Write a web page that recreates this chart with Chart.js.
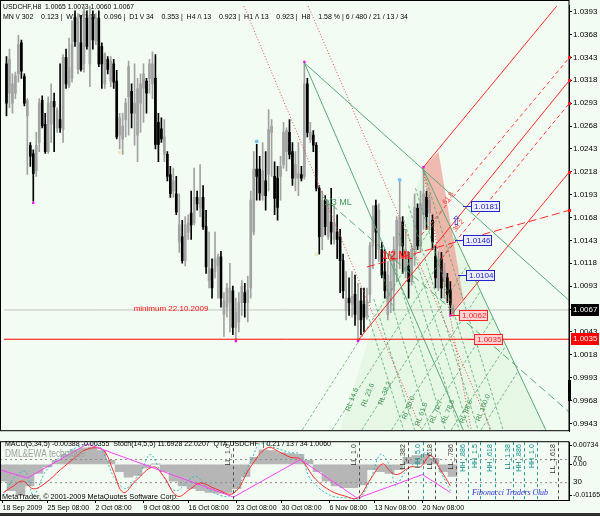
<!DOCTYPE html>
<html>
<head>
<meta charset="utf-8">
<title>USDCHF,H8</title>
<script src="https://cdn.jsdelivr.net/npm/chart.js@4.4.1/dist/chart.umd.min.js"></script>
<style>
  html, body { margin: 0; padding: 0; background: #f3fcf3; }
  #wrap { position: relative; width: 600px; height: 516px; overflow: hidden; background: #f3fcf3; }
  #main { position: absolute; left: 0; top: 0; }
  #sub { position: absolute; left: 0; top: 437px; }
  #tabs { position: absolute; left: 0; top: 513px; width: 600px; height: 3px; background: #303030; }
</style>
</head>
<body>
<div id="wrap">
  <canvas id="main" width="600" height="437"></canvas>
  <canvas id="sub" width="600" height="76"></canvas>
  <div id="tabs"></div>
</div>
<script>
'use strict';

var FONT = '"Liberation Sans", Arial, sans-serif';

// ---- USDCHF H8 candles, bar 0 = 18 Sep 2009 ----
var opens = [
  1.0336, 1.0304, 1.0293, 1.0304, 1.0325, 1.0359, 1.0322, 1.0279, 1.0247, 1.0238,
  1.0219, 1.0250, 1.0296, 1.0270, 1.0240, 1.0270, 1.0295, 1.0266, 1.0275, 1.0264,
  1.0343, 1.0312, 1.0320, 1.0387, 1.0330, 1.0359, 1.0336, 1.0386, 1.0336, 1.0387,
  1.0361, 1.0386, 1.0355, 1.0314, 1.0341, 1.0317, 1.0336, 1.0317, 1.0258, 1.0254,
  1.0275, 1.0300, 1.0306, 1.0282, 1.0258, 1.0293, 1.0309, 1.0317, 1.0320, 1.0314,
  1.0320, 1.0272, 1.0265, 1.0237, 1.0237, 1.0215, 1.0197, 1.0194, 1.0141, 1.0147,
  1.0121, 1.0152, 1.0173, 1.0162, 1.0190, 1.0179, 1.0190, 1.0158, 1.0099, 1.0112,
  1.0109, 1.0115, 1.0125, 1.0062, 1.0070, 1.0075, 1.0088, 1.0048, 1.0054, 1.0075,
  1.0086, 1.0075, 1.0091, 1.0152, 1.0221, 1.0221, 1.0192, 1.0208, 1.0215, 1.0261,
  1.0213, 1.0211, 1.0213, 1.0226, 1.0240, 1.0261, 1.0240, 1.0211, 1.0211, 1.0215,
  1.0213, 1.0314, 1.0253, 1.0258, 1.0247, 1.0200, 1.0147, 1.0187, 1.0147, 1.0163,
  1.0144, 1.0152, 1.0147, 1.0121, 1.0066, 1.0080, 1.0073, 1.0084, 1.0056, 1.0077,
  1.0073, 1.0062, 1.0084, 1.0137, 1.0181, 1.0133, 1.0133, 1.0109, 1.0062, 1.0077,
  1.0088, 1.0120, 1.0137, 1.0163, 1.0109, 1.0115, 1.0098, 1.0133, 1.0178, 1.0137,
  1.0171, 1.0190, 1.0173, 1.0165, 1.0126, 1.0091, 1.0123, 1.0098, 1.0102, 1.0089,
  1.0065
];
var highs = [
  1.0344, 1.0352, 1.0325, 1.0327, 1.0367, 1.0362, 1.0325, 1.0298, 1.0250, 1.0242,
  1.0261, 1.0298, 1.0301, 1.0282, 1.0300, 1.0314, 1.0304, 1.0288, 1.0336, 1.0346,
  1.0352, 1.0364, 1.0383, 1.0394, 1.0391, 1.0389, 1.0399, 1.0394, 1.0399, 1.0394,
  1.0391, 1.0394, 1.0359, 1.0348, 1.0344, 1.0344, 1.0341, 1.0329, 1.0282, 1.0282,
  1.0298, 1.0339, 1.0314, 1.0336, 1.0320, 1.0325, 1.0336, 1.0320, 1.0341, 1.0349,
  1.0346, 1.0282, 1.0277, 1.0275, 1.0240, 1.0224, 1.0222, 1.0213, 1.0194, 1.0165,
  1.0169, 1.0171, 1.0197, 1.0222, 1.0197, 1.0226, 1.0203, 1.0176, 1.0152, 1.0123,
  1.0152, 1.0128, 1.0131, 1.0086, 1.0096, 1.0118, 1.0093, 1.0080, 1.0086, 1.0099,
  1.0096, 1.0104, 1.0197, 1.0240, 1.0248, 1.0235, 1.0250, 1.0240, 1.0286, 1.0275,
  1.0229, 1.0224, 1.0235, 1.0272, 1.0266, 1.0275, 1.0250, 1.0240, 1.0250, 1.0224,
  1.0337, 1.0320, 1.0272, 1.0263, 1.0250, 1.0203, 1.0197, 1.0192, 1.0187, 1.0200,
  1.0181, 1.0171, 1.0155, 1.0128, 1.0109, 1.0102, 1.0109, 1.0105, 1.0096, 1.0091,
  1.0091, 1.0091, 1.0141, 1.0181, 1.0187, 1.0183, 1.0141, 1.0133, 1.0120, 1.0128,
  1.0147, 1.0169, 1.0207, 1.0169, 1.0155, 1.0130, 1.0137, 1.0194, 1.0183, 1.0197,
  1.0222, 1.0197, 1.0194, 1.0171, 1.0137, 1.0130, 1.0130, 1.0118, 1.0107, 1.0098,
  1.0073
];
var lows = [
  1.0279, 1.0288, 1.0282, 1.0298, 1.0316, 1.0320, 1.0290, 1.0215, 1.0224, 1.0186,
  1.0213, 1.0240, 1.0266, 1.0238, 1.0238, 1.0250, 1.0240, 1.0261, 1.0261, 1.0250,
  1.0309, 1.0310, 1.0316, 1.0355, 1.0325, 1.0328, 1.0327, 1.0352, 1.0311, 1.0352,
  1.0357, 1.0333, 1.0309, 1.0309, 1.0325, 1.0311, 1.0309, 1.0254, 1.0243, 1.0237,
  1.0256, 1.0258, 1.0266, 1.0247, 1.0229, 1.0261, 1.0272, 1.0282, 1.0304, 1.0298,
  1.0243, 1.0229, 1.0250, 1.0229, 1.0208, 1.0190, 1.0190, 1.0171, 1.0130, 1.0118,
  1.0115, 1.0144, 1.0144, 1.0160, 1.0176, 1.0169, 1.0155, 1.0107, 1.0091, 1.0080,
  1.0102, 1.0080, 1.0070, 1.0038, 1.0059, 1.0043, 1.0040, 1.0035, 1.0043, 1.0061,
  1.0059, 1.0054, 1.0080, 1.0149, 1.0187, 1.0187, 1.0187, 1.0176, 1.0197, 1.0213,
  1.0171, 1.0165, 1.0187, 1.0222, 1.0219, 1.0232, 1.0203, 1.0197, 1.0192, 1.0208,
  1.0210, 1.0256, 1.0250, 1.0240, 1.0197, 1.0128, 1.0133, 1.0149, 1.0144, 1.0139,
  1.0139, 1.0123, 1.0086, 1.0080, 1.0056, 1.0061, 1.0059, 1.0050, 1.0035, 1.0040,
  1.0043, 1.0057, 1.0075, 1.0112, 1.0123, 1.0120, 1.0102, 1.0080, 1.0056, 1.0064,
  1.0066, 1.0098, 1.0112, 1.0107, 1.0102, 1.0080, 1.0094, 1.0115, 1.0133, 1.0130,
  1.0155, 1.0155, 1.0155, 1.0133, 1.0091, 1.0088, 1.0080, 1.0080, 1.0075, 1.0062,
  1.0060
];
var closes = [
  1.0293, 1.0341, 1.0314, 1.0323, 1.0357, 1.0328, 1.0293, 1.0296, 1.0235, 1.0216,
  1.0247, 1.0293, 1.0268, 1.0240, 1.0293, 1.0295, 1.0289, 1.0285, 1.0266, 1.0343,
  1.0314, 1.0332, 1.0357, 1.0360, 1.0386, 1.0330, 1.0394, 1.0355, 1.0389, 1.0362,
  1.0386, 1.0336, 1.0336, 1.0346, 1.0330, 1.0339, 1.0316, 1.0256, 1.0277, 1.0268,
  1.0293, 1.0333, 1.0282, 1.0293, 1.0309, 1.0314, 1.0325, 1.0304, 1.0336, 1.0336,
  1.0248, 1.0248, 1.0254, 1.0256, 1.0213, 1.0194, 1.0208, 1.0174, 1.0160, 1.0121,
  1.0160, 1.0162, 1.0160, 1.0190, 1.0183, 1.0190, 1.0158, 1.0114, 1.0112, 1.0091,
  1.0123, 1.0125, 1.0080, 1.0077, 1.0091, 1.0091, 1.0048, 1.0064, 1.0075, 1.0093,
  1.0075, 1.0089, 1.0187, 1.0221, 1.0213, 1.0195, 1.0219, 1.0192, 1.0264, 1.0268,
  1.0189, 1.0179, 1.0224, 1.0261, 1.0263, 1.0237, 1.0211, 1.0226, 1.0216, 1.0211,
  1.0314, 1.0261, 1.0261, 1.0247, 1.0200, 1.0147, 1.0187, 1.0158, 1.0183, 1.0152,
  1.0162, 1.0144, 1.0121, 1.0088, 1.0080, 1.0075, 1.0082, 1.0062, 1.0077, 1.0056,
  1.0059, 1.0077, 1.0137, 1.0169, 1.0152, 1.0176, 1.0105, 1.0088, 1.0105, 1.0098,
  1.0133, 1.0165, 1.0168, 1.0137, 1.0133, 1.0098, 1.0133, 1.0179, 1.0137, 1.0183,
  1.0194, 1.0169, 1.0187, 1.0141, 1.0102, 1.0123, 1.0091, 1.0109, 1.0084, 1.0073,
  1.0067
];

var lastPrice = 1.0067;
var minimumPrice = 1.0035;

var priceTicks = [1.0393, 1.0368, 1.0343, 1.0318, 1.0293, 1.0268, 1.0243, 1.0218, 1.0193, 1.0168,
  1.0143, 1.0118, 1.0093, 1.0068, 1.0043, 1.0018, 0.9993, 0.9968, 0.9943];
var timeTicks = [0, 15, 31, 47, 62, 78, 93, 109, 124, 140];
var timeLabels = ['18 Sep 2009', '25 Sep 08:00', '2 Oct 08:00', '9 Oct 08:00', '16 Oct 08:00',
  '23 Oct 08:00', '30 Oct 08:00', '6 Nov 08:00', '13 Nov 08:00', '20 Nov 08:00'];

// pivot marks [bar, price]
var pivotDots = [[9, 1.0184], [77, 1.0033], [100, 1.0338], [118, 1.0033], [140, 1.0223], [149, 1.0061]];
var fractalDots = [[84, 1.0251], [132, 1.0209]];
var paleDots = [[38, 1.0239], [104, 1.0128]];

// drawn objects [bar1, price1, bar2, price2]
var greenLines = [[100, 1.0337, 189, 1.0077], [100, 1.0337, 153.3, 0.9936], [139.7, 1.0222, 181, 0.9936]];
var greenMedian = [[106, 1.0191, 189, 0.9955]];
var redLines = [[139.7, 1.0222, 184.7, 1.0399], [149.3, 1.0062, 189, 1.0218], [118.3, 1.0035, 189, 1.0318]];
var redDashed = [[139.3, 1.0149, 189, 1.0343], [146, 1.0123, 189, 1.0293]];
var redHalfML = [[121, 1.0114, 189, 1.0176]];
var redDotted = [[79.7, 1.0399, 139.3, 0.9936], [101.3, 1.0399, 162.7, 0.9936], [139.7, 1.0222, 156, 0.9936]];
var fanDown = [
  [121.3, 1.0062, 133.3, 0.9936], [123.3, 1.0079, 137, 0.9936], [126.3, 1.0106, 142.3, 0.9936],
  [129, 1.0128, 147.3, 0.9936], [131.7, 1.0151, 152, 0.9936], [133.3, 1.0166, 155.3, 0.9936],
  [135, 1.0181, 158.3, 0.9936], [137.3, 1.0200, 162.3, 0.9936], [139.7, 1.0222, 166.7, 0.9936]
];
var fanUp = [
  [99.3, 0.9936, 146.3, 1.0176], [109.3, 0.9936, 150.7, 1.0146], [119.3, 0.9936, 154.7, 1.0116],
  [129.3, 0.9936, 159, 1.0087], [139.3, 0.9936, 163.3, 1.0058], [149.3, 0.9936, 167.7, 1.0028],
  [159.3, 0.9936, 171.7, 1.0000]
];
var fanZone = [[139.7, 1.0222], [181, 0.9936], [112, 0.9936], [139.7, 1.0222]];
var pinkZone = [[139.7, 1.0222], [145, 1.0240], [153.3, 1.0080], [149.3, 1.0062], [139.7, 1.0222]];

var chartNotes = [
  [42.7, 1.0068, 'minimum 22.10.2009', '#ff1010', 8, ''],
  [106.7, 1.0184, '1/3 ML', '#3f9a5c', 9, ''],
  [126, 1.0126, '1/2 ML', '#ff1a1a', 10, 'bold ']
];
var levelBoxes = [
  [156, 1.0181, '1.0181', 'blue'],
  [153.3, 1.0144, '1.0146', 'blue'],
  [154.3, 1.0105, '1.0104', 'blue'],
  [152, 1.0062, '1.0062', 'red'],
  [157, 1.0035, '1.0035', 'red']
];
var rlLabels = [
  [116, 0.9969, 'RL 14.6'], [121.3, 0.9974, 'RL 23.6'], [127, 0.9976, 'RL 38.2'],
  [135, 0.9960, 'RL 50.0'], [139.3, 0.9953, 'RL 61.8'], [144.3, 0.9956, 'RL 70.7'],
  [148.3, 0.9956, 'RL 78.6'], [154.3, 0.9956, 'RL 88.6'], [160, 0.9960, 'RL 100.0']
];
var ratioLabels = [[148.3, 1.0189, '61.8'], [151.7, 1.0159, '38.2']];
var arrowMark = [151, 1.0163];
var axisMarks = [1.0343, 1.0318, 1.0293, 1.0218, 1.0176];

// ---- sub window: MACD(5,34,5), Stoch(14,5,5), QTA ----
var histBars = [0, 3, 6, 9, 12, 15, 18, 21, 24, 27, 30, 33, 36, 39, 42, 45, 48, 51, 54, 57,
  60, 63, 66, 69, 72, 75, 78, 81, 84, 87, 90, 93, 96, 99, 102, 105, 108, 111, 114, 117,
  120, 123, 126, 129, 132, 135, 138, 141, 144, 147, 150];
var histValues = [-0.0063, -0.0099, -0.0117, -0.0081, -0.0034, -0.0009, 0.0016, 0.0038, 0.0055, 0.0063,
  0.0066, 0.0052, 0.0016, -0.0027, -0.0048, -0.0041, -0.0013, 0.0001, -0.0027, -0.0063,
  -0.0081, -0.0092, -0.0099, -0.0106, -0.0109, -0.0106, -0.0092, -0.0045, 0.0027, 0.0055,
  0.0052, 0.0045, 0.0041, 0.0038, 0.0016, -0.0027, -0.0063, -0.0081, -0.0088, -0.0088,
  -0.0077, -0.0020, -0.0027, -0.0034, -0.0020, 0.0027, 0.0034, 0.0038, 0.0023, -0.0027, -0.0045];
var signalBars = [0.3, 3.3, 6.7, 10.3, 14.3, 19.3, 24.3, 27, 31.7, 34.3, 37, 40.3, 44.3, 50.3, 53.7,
  58.3, 62.7, 66, 71, 77, 82.7, 88.3, 92.7, 96, 99.3, 104.3, 109.3, 114.3, 118.3, 122.7,
  126.7, 129.3, 131.7, 136, 139.3, 142.7, 146, 149.3];
var signalValues = [-0.0106, -0.0084, -0.0063, -0.0092, -0.0070, -0.0020, 0.0027, 0.0052, 0.0063, 0.0045,
  -0.0027, -0.0106, -0.0063, -0.0009, -0.0045, -0.0120, -0.0092, -0.0070, -0.0092, -0.0109,
  -0.0009, 0.0063, 0.0045, 0.0027, 0.0020, -0.0055, -0.0099, -0.0120, -0.0127, -0.0055,
  0.0002, -0.0027, -0.0038, -0.0009, -0.0009, 0.0034, -0.0020, -0.0081];
var stochBars = [0.3, 4.3, 7.7, 10.3, 14.3, 19.3, 24.3, 31, 34.3, 37, 41, 46, 49.3, 52.7, 57.7,
  64.3, 69.3, 76, 82.7, 86, 91, 96, 99.3, 102.7, 109.3, 116, 118.7, 122.7, 126, 129.3,
  131, 134.3, 137.7, 141, 143.3, 146, 149.3];
var stochValues = [8, 41, 49, 8, 49, 74, 90, 98, 74, 41, 20, 49, 79, 49, 16,
  41, 16, 8, 66, 98, 90, 82, 79, 36, 8, 3, 0, 36, 79, 57,
  25, 49, 66, 82, 74, 49, 16];
var qtaBars = [-0.7, 8.3, 28.3, 77, 99.3, 118.3, 140, 149.3];
var qtaValues = [52, 38, 97, 5, 70, 3, 44, 13];
var stochLevels = [70, 30];
var macdTicks = [0.00734, 0, -0.01165];
var fiboTimes = [
  [77, 'LL_1.0', '#303030'], [118.7, 'LL_1.0', '#303030'], [135, 'LL_.382', '#303030'],
  [140, 'HH_5.0', '#008b8b'], [144.3, 'LL_.618', '#303030'], [151, 'LL_.786', '#303030'],
  [155, 'HH_.886', '#008b8b'], [159.3, 'HH_1.5', '#008b8b'], [164.3, 'HH_.618', '#008b8b'],
  [170.3, 'LL_1.38', '#008b8b'], [173.7, 'HH_.886', '#008b8b'], [178.3, 'HH_1.0', '#008b8b'],
  [185.3, 'LL_1.618', '#303030']
];

var X_MIN = -0.8333, X_MAX = 188.8333;

Chart.defaults.font.family = FONT;
Chart.defaults.font.size = 8;
Chart.defaults.color = '#000';

// ---- helpers ----
function pts(list) {
  return list.map(function(p) { return { x: p[0], y: p[1] }; });
}

function segSets(list, color, dash, width, order) {
  return list.map(function(s) {
    return {
      type: 'line',
      data: [{ x: s[0], y: s[1] }, { x: s[2], y: s[3] }],
      borderColor: color,
      borderDash: dash,
      borderWidth: width,
      pointRadius: 0,
      fill: false,
      order: order
    };
  });
}

function drawText(ctx, x, y, text, font, color, align, rot) {
  ctx.save();
  ctx.translate(x, y);
  if (rot) ctx.rotate(rot);
  ctx.font = font;
  ctx.fillStyle = color;
  ctx.textAlign = align || 'left';
  ctx.textBaseline = 'middle';
  ctx.fillText(text, 0, 0);
  ctx.restore();
}

// text squeezed to the width it takes in the terminal window
function drawFitted(ctx, x, y, text, font, color, width) {
  ctx.save();
  ctx.font = font;
  var k = Math.min(1, width / ctx.measureText(text).width);
  ctx.translate(x, y);
  ctx.scale(k, 1);
  ctx.fillStyle = color;
  ctx.textAlign = 'left';
  ctx.textBaseline = 'middle';
  ctx.fillText(text, 0, 0);
  ctx.restore();
}

function fixedWidth(scale) { scale.width = 31; }

// ---- main chart ----
var wicks = [], bodies = [], candleColors = [];
opens.forEach(function(o, i) {
  var bull = closes[i] >= o;
  wicks.push({ x: i, y: [lows[i], highs[i]] });
  bodies.push({ x: i, y: [o, closes[i]] });
  candleColors.push(bull ? '#a2a2a2' : '#000000');
});

var mainSets = [
  { type: 'line', data: pts(fanZone), borderWidth: 0, pointRadius: 0,
    backgroundColor: 'rgba(130,205,130,0.11)', fill: 'shape', order: 20 },
  { type: 'line', data: pts(pinkZone), borderWidth: 0, pointRadius: 0,
    backgroundColor: 'rgba(240,120,110,0.5)', fill: 'shape', order: 19 },
  { type: 'bar', data: wicks, backgroundColor: candleColors, barThickness: 1, grouped: false, order: 9 },
  { type: 'bar', data: bodies, backgroundColor: candleColors, barThickness: 2, minBarLength: 1, grouped: false, order: 8 },
  { type: 'line', data: [{ x: X_MIN, y: lastPrice }, { x: X_MAX, y: lastPrice }],
    borderColor: '#c4c4c4', borderWidth: 1, pointRadius: 0, order: 12 },
  { type: 'line', data: [{ x: X_MIN, y: minimumPrice }, { x: X_MAX, y: minimumPrice }],
    borderColor: '#ff0000', borderWidth: 1, pointRadius: 0, order: 3 },
  { type: 'line', data: pts(pivotDots), showLine: false, pointStyle: 'rect', pointRadius: 1.6,
    backgroundColor: '#ff00ff', borderWidth: 0, order: 1 },
  { type: 'line', data: pts(fractalDots), showLine: false, pointRadius: 2,
    backgroundColor: '#7ec4f0', borderWidth: 0, order: 1 },
  { type: 'line', data: pts(paleDots), showLine: false, pointRadius: 2,
    backgroundColor: '#ececc4', borderWidth: 0, order: 1 }
];
mainSets = mainSets
  .concat(segSets(fanDown, 'rgba(70,160,90,0.7)', [3, 2], 1, 6))
  .concat(segSets(fanUp, 'rgba(70,160,90,0.7)', [3, 2], 1, 6))
  .concat(segSets(redDotted, '#e04848', [1, 2], 1, 5))
  .concat(segSets(greenLines, '#5aa878', [], 1, 4))
  .concat(segSets(greenMedian, '#5aa878', [8, 4], 1, 4))
  .concat(segSets(redLines, '#ff2828', [], 1, 4))
  .concat(segSets(redDashed, '#ff3a3a', [4, 3], 1, 4))
  .concat(segSets(redHalfML, '#ff2828', [8, 4], 1, 4));

var mainDecor = {
  id: 'mainDecor',
  beforeDatasetsDraw: function(chart) {
    var ctx = chart.ctx;
    drawFitted(ctx, 3, 7, 'USDCHF,H8  1.0065 1.0073 1.0060 1.0067', '8px ' + FONT, '#000', 131);
    drawFitted(ctx, 3, 17, 'MN \\/ 302    0.123 |  W1 \\/ 121    0.096 |  D1 \\/ 34    0.353 |  H4 /\\ 13    0.923 |  H1 /\\ 13    0.923 |  H8    1.58 % | 6 / 480 / 21 / 13 / 34',
      '8px ' + FONT, '#000', 405);
  },
  afterDatasetsDraw: function(chart) {
    var ctx = chart.ctx, xs = chart.scales.x, ys = chart.scales.y;
    var area = chart.chartArea;
    ctx.save();
    ctx.beginPath();
    ctx.rect(area.left, area.top, area.right - area.left, area.bottom - area.top);
    ctx.clip();

    chartNotes.forEach(function(n) {
      drawText(ctx, xs.getPixelForValue(n[0]), ys.getPixelForValue(n[1]), n[2],
        n[5] + n[4] + 'px ' + FONT, n[3]);
    });
    rlLabels.forEach(function(n) {
      drawText(ctx, xs.getPixelForValue(n[0]), ys.getPixelForValue(n[1]), n[2],
        '7px ' + FONT, '#3c9050', 'center', -1.2);
    });
    ratioLabels.forEach(function(n) {
      drawText(ctx, xs.getPixelForValue(n[0]), ys.getPixelForValue(n[1]), n[2],
        '7px ' + FONT, '#ff3030', 'center', -0.9);
    });

    levelBoxes.forEach(function(b) {
      var x = Math.round(xs.getPixelForValue(b[0]));
      var y = Math.round(ys.getPixelForValue(b[1]));
      var red = b[3] === 'red';
      var line = red ? '#ff2020' : '#2424c8';
      ctx.font = '8px ' + FONT;
      var w = Math.round(ctx.measureText(b[2]).width) + 5;
      ctx.strokeStyle = line;
      ctx.lineWidth = 1;
      ctx.beginPath();
      ctx.moveTo(x - 8, y + 0.5);
      ctx.lineTo(x, y + 0.5);
      ctx.stroke();
      ctx.fillStyle = red ? '#ffd4d4' : '#eceeff';
      ctx.fillRect(x, y - 5, w, 11);
      ctx.strokeRect(x + 0.5, y - 4.5, w - 1, 10);
      drawText(ctx, x + 3, y + 1, b[2], '8px ' + FONT, line);
    });

    drawText(ctx, xs.getPixelForValue(arrowMark[0]), ys.getPixelForValue(arrowMark[1]), '\u21e7',
      '13px "DejaVu Sans", sans-serif', '#2a2ad0', 'center');
    ctx.restore();
  },
  afterDraw: function(chart) {
    var ctx = chart.ctx, ys = chart.scales.y, area = chart.chartArea;
    ctx.save();
    ctx.strokeStyle = '#000';
    ctx.lineWidth = 1;
    ctx.strokeRect(0.5, 0.5, area.right - 0.5, area.bottom - 1);

    axisMarks.forEach(function(p) {
      ctx.fillStyle = '#ff2020';
      ctx.fillRect(area.right - 1, Math.round(ys.getPixelForValue(p)) - 1, 3, 3);
    });
    ctx.fillStyle = '#000';
    ctx.fillRect(area.right - 1, 380, 3, 21);

    [[lastPrice, '#000000'], [minimumPrice, '#ff0000']].forEach(function(q) {
      var y = Math.round(ys.getPixelForValue(q[0]));
      ctx.fillStyle = q[1];
      ctx.fillRect(area.right + 2, y - 6, 28, 12);
      drawText(ctx, area.right + 4, y, q[0].toFixed(4), '8px ' + FONT, '#ffffff');
    });
    ctx.restore();
  }
};

new Chart(document.getElementById('main'), {
  type: 'bar',
  data: { datasets: mainSets },
  options: {
    responsive: false,
    animation: false,
    devicePixelRatio: 1,
    layout: { padding: 0 },
    plugins: { legend: { display: false }, tooltip: { enabled: false } },
    scales: {
      x: { type: 'linear', min: X_MIN, max: X_MAX, offset: false, display: false, grid: { offset: false } },
      y: {
        type: 'linear', position: 'right', min: 0.99345, max: 1.03994,
        afterFit: fixedWidth,
        afterBuildTicks: function(scale) {
          scale.ticks = priceTicks.map(function(v) { return { value: v }; });
        },
        ticks: {
          padding: 1,
          font: { size: 8 },
          callback: function(v) { return Number(v).toFixed(4); }
        },
        grid: { drawOnChartArea: false, tickLength: 3, color: '#000' },
        border: { display: true, color: '#000' }
      }
    }
  },
  plugins: [mainDecor]
});

// ---- sub window ----
var subSets = [
  { type: 'bar', data: histBars.map(function(b, i) { return { x: b, y: histValues[i] }; }),
    yAxisID: 'ym', backgroundColor: '#b6b6b6', barThickness: 9, grouped: false, order: 10 },
  { type: 'line', data: signalBars.map(function(b, i) { return { x: b, y: signalValues[i] }; }),
    yAxisID: 'ym', borderColor: '#ff2a2a', borderWidth: 1, tension: 0.4, pointRadius: 0, order: 2 },
  { type: 'line', data: stochBars.map(function(b, i) { return { x: b, y: stochValues[i] }; }),
    yAxisID: 'ys', borderColor: '#36b8b8', borderDash: [2, 2], borderWidth: 1, tension: 0.35, pointRadius: 0, order: 3 },
  { type: 'line', data: qtaBars.map(function(b, i) { return { x: b, y: qtaValues[i] }; }),
    yAxisID: 'ys', borderColor: '#ff40ff', borderWidth: 1, pointRadius: 0, order: 1 }
];
stochLevels.forEach(function(v) {
  subSets.push({ type: 'line', data: [{ x: X_MIN, y: v }, { x: X_MAX, y: v }], yAxisID: 'ys',
    borderColor: '#8c8c8c', borderDash: [2, 3], borderWidth: 1, pointRadius: 0, order: 5 });
});

var subDecor = {
  id: 'subDecor',
  afterDatasetsDraw: function(chart) {
    var ctx = chart.ctx, xs = chart.scales.x, area = chart.chartArea;
    ctx.save();
    fiboTimes.forEach(function(f) {
      var x = Math.round(xs.getPixelForValue(f[0])) + 0.5;
      ctx.strokeStyle = f[2] === '#008b8b' ? '#2a9898' : '#505050';
      ctx.setLineDash([3, 3]);
      ctx.lineWidth = 1;
      ctx.beginPath();
      ctx.moveTo(x, area.top);
      ctx.lineTo(x, area.bottom);
      ctx.stroke();
      drawText(ctx, x - 5, area.top + 2, f[1], '7px ' + FONT, f[2], 'right', -Math.PI / 2);
    });
    ctx.setLineDash([]);

    drawFitted(ctx, 5, 7, 'MACD(5,34,5) -0.00388 -0.00355  Stoch(14,5,5) 11.6928 22.0207  QTA USDCHF  | 0.21 / 13 / 34 1.0060',
      '8px ' + FONT, '#000', 326);
    drawFitted(ctx, 5, 17, 'DML&EWA technique', '10px ' + FONT, '#a0a0a0', 80);
    drawFitted(ctx, 2, 60, 'MetaTrader, \u00a9 2001-2009 MetaQuotes Software Corp.', '8px ' + FONT, '#000', 176);
    drawFitted(ctx, 472, 56, 'Fibonacci Traders Club', 'italic 9px "Liberation Serif", serif', '#2a2ad8', 76);
    ctx.restore();
  },
  afterDraw: function(chart) {
    var ctx = chart.ctx, area = chart.chartArea, ss = chart.scales.ys;
    ctx.save();
    ctx.strokeStyle = '#000';
    ctx.lineWidth = 1;
    ctx.strokeRect(0.5, area.top - 0.5, area.right - 0.5, area.bottom - area.top + 1);
    stochLevels.forEach(function(v) {
      drawText(ctx, area.right + 4, ss.getPixelForValue(v) - 1, String(v), '8px ' + FONT, '#000');
    });
    ctx.restore();
  }
};

new Chart(document.getElementById('sub'), {
  type: 'bar',
  data: { datasets: subSets },
  options: {
    responsive: false,
    animation: false,
    devicePixelRatio: 1,
    layout: { padding: { top: 2, left: 0, right: 0, bottom: 0 } },
    plugins: { legend: { display: false }, tooltip: { enabled: false } },
    scales: {
      x: {
        type: 'linear', min: X_MIN, max: X_MAX, offset: false,
        afterFit: function(scale) { scale.height = 13; },
        afterBuildTicks: function(scale) {
          scale.ticks = timeTicks.map(function(v) { return { value: v }; });
        },
        ticks: {
          align: 'start', maxRotation: 0, autoSkip: false, padding: 1, font: { size: 7 },
          callback: function(v, i) { return timeLabels[i]; }
        },
        grid: { offset: false, drawOnChartArea: false, tickLength: 3, color: '#000' },
        border: { display: true, color: '#000' }
      },
      ym: {
        type: 'linear', position: 'right', min: -0.013441, max: 0.008415,
        afterFit: fixedWidth,
        afterBuildTicks: function(scale) {
          scale.ticks = macdTicks.map(function(v) { return { value: v }; });
        },
        ticks: {
          padding: 1, font: { size: 7 },
          callback: function(v) { return v === 0 ? '0.00' : Number(v).toFixed(5); }
        },
        grid: { drawOnChartArea: false, tickLength: 3, color: '#000' },
        border: { display: true, color: '#000' }
      },
      ys: { type: 'linear', min: 0, max: 100, display: false }
    }
  },
  plugins: [subDecor]
});
</script>
</body>
</html>
